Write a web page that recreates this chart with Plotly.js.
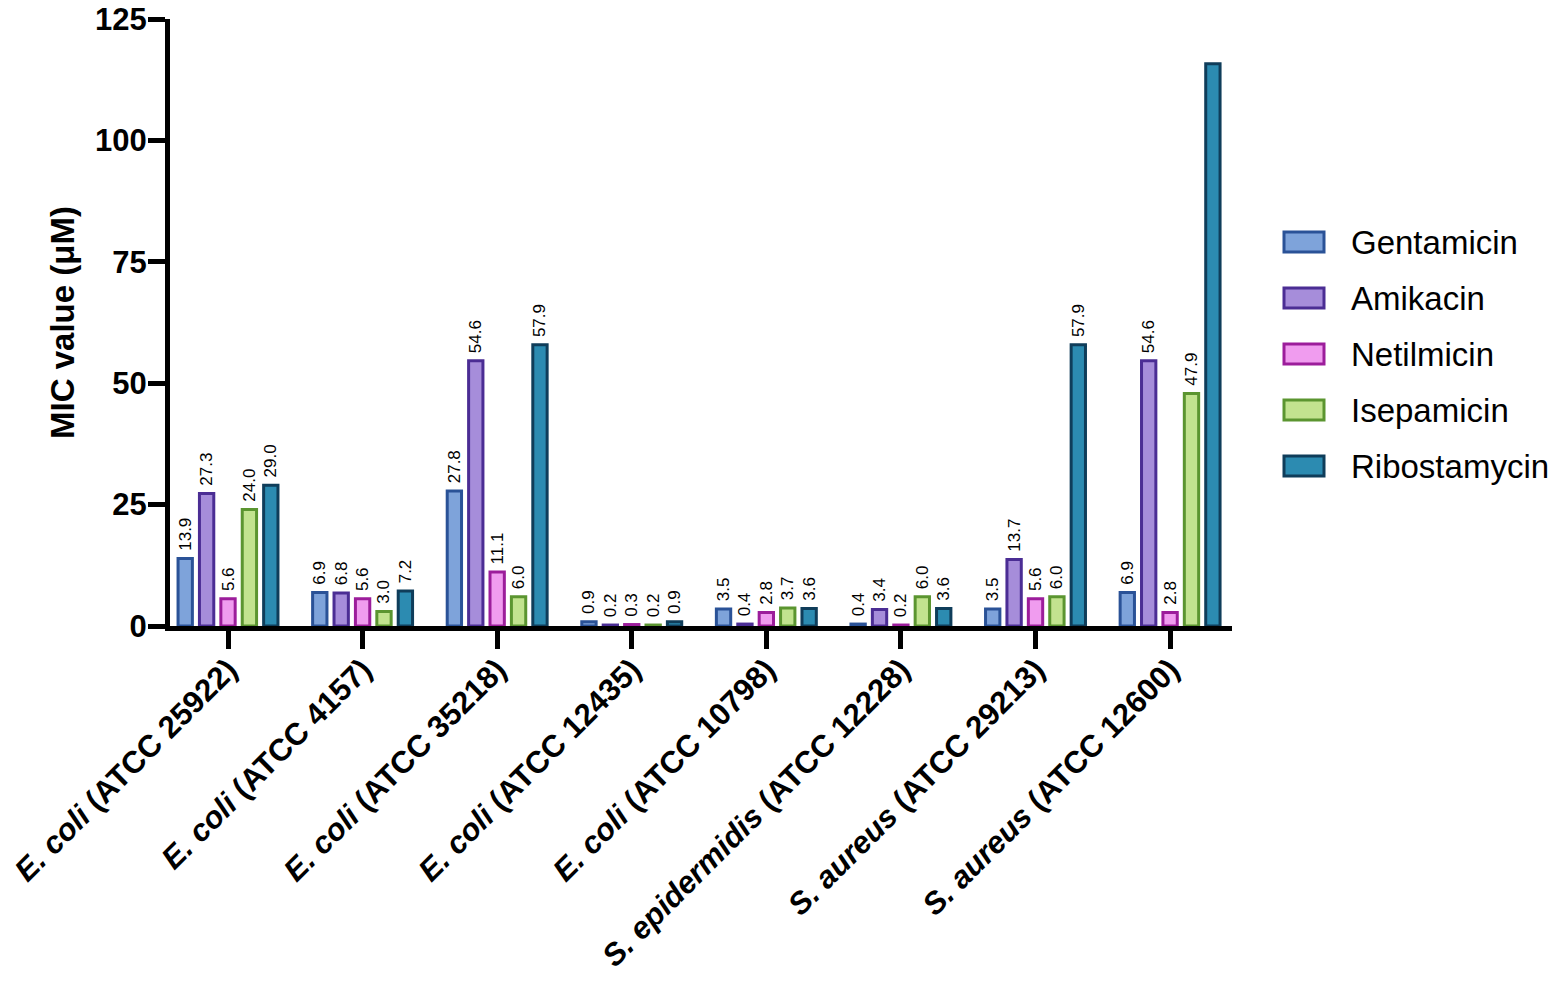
<!DOCTYPE html>
<html>
<head>
<meta charset="utf-8">
<script src="https://cdn.plot.ly/plotly-3.0.1.min.js"></script>
<style>html,body{margin:0;padding:0;background:#fff;}#chart{width:1559px;height:981px;}</style>
</head>
<body>
<div id="chart"></div>
<script>
// ---- data ----
var strains = [
  "<i>E. coli</i> (ATCC 25922)",
  "<i>E. coli</i> (ATCC 4157)",
  "<i>E. coli</i> (ATCC 35218)",
  "<i>E. coli</i> (ATCC 12435)",
  "<i>E. coli</i> (ATCC 10798)",
  "<i>S. epidermidis</i> (ATCC 12228)",
  "<i>S. aureus</i> (ATCC 29213)",
  "<i>S. aureus</i> (ATCC 12600)"
];
var seriesNames = ["Gentamicin", "Amikacin", "Netilmicin", "Isepamicin", "Ribostamycin"];
var gentamicin   = [13.9, 6.9, 27.8, 0.9, 3.5, 0.4, 3.5, 6.9];
var amikacin     = [27.3, 6.8, 54.6, 0.2, 0.4, 3.4, 13.7, 54.6];
var netilmicin   = [5.6, 5.6, 11.1, 0.3, 2.8, 0.2, 5.6, 2.8];
var isepamicin   = [24.0, 3.0, 6.0, 0.2, 3.7, 6.0, 6.0, 47.9];
var ribostamycin = [29.0, 7.2, 57.9, 0.9, 3.6, 3.6, 57.9, 115.8];
var yTicks = [0, 25, 50, 75, 100, 125];
// labels not shown in the original (value label missing above the tallest bar)
var hiddenLabel = [[], [], [], [], [7]];

// ---- styles ----
var fills = ["#7EA3DA", "#A68DDA", "#F09CEF", "#C2E38F", "#2C8BB1"];
var lines = ["#2A5297", "#4B2D94", "#9C1D9B", "#5B9530", "#0F3D5A"];
var font = "Arial, 'Liberation Sans', sans-serif";

var allSeries = [gentamicin, amikacin, netilmicin, isepamicin, ribostamycin];
var xIdx = strains.map(function (_, i) { return i; });

var traces = allSeries.map(function (vals, s) {
  return {
    type: "bar",
    name: seriesNames[s],
    x: xIdx,
    y: vals,
    text: vals.map(function (v, i) { return hiddenLabel[s].indexOf(i) >= 0 ? "" : "\u00a0" + v.toFixed(1); }),
    textposition: "outside",
    textangle: -90,
    constraintext: "none",
    cliponaxis: false,
    textfont: { family: font, size: 17, color: "#000" },
    marker: { color: fills[s], line: { color: lines[s], width: 3 } },
    hoverinfo: "name+y",
    showlegend: false
  };
});

// plot-area pixel geometry
var L = 170, R = 1232, T = 19, B = 626, W = 1559, H = 981;
function px2x(p) { return (p - L) / (R - L); }
function px2y(p) { return (B - p) / (B - T); }

var shapes = [], annotations = [];
var legendY = [242, 298, 354, 410, 466];
seriesNames.forEach(function (n, s) {
  shapes.push({
    type: "rect", xref: "paper", yref: "paper",
    x0: px2x(1284), x1: px2x(1324), y0: px2y(legendY[s] + 10), y1: px2y(legendY[s] - 10),
    fillcolor: fills[s], line: { color: lines[s], width: 3 }
  });
  annotations.push({
    xref: "paper", yref: "paper", x: px2x(1349), y: px2y(legendY[s]),
    xanchor: "left", yanchor: "middle", showarrow: false,
    text: n, font: { family: font, size: 33, color: "#000" }
  });
});

var layout = {
  width: W, height: H,
  margin: { l: L, r: W - R, t: T, b: H - B, pad: 0 },
  paper_bgcolor: "#fff", plot_bgcolor: "#fff",
  barmode: "group",
  bargap: 0.205,
  bargroupgap: 0.33,
  showlegend: false,
  font: { family: font, color: "#000" },
  xaxis: {
    type: "linear",
    range: [-0.431, 7.46],
    tickmode: "array",
    tickvals: xIdx,
    ticktext: strains.map(function (s) { return "<b>" + s + "</b>"; }),
    tickangle: -45,
    tickfont: { family: font, size: 31, color: "#000" },
    ticklabelstandoff: -10,
    ticks: "outside", ticklen: 18, tickwidth: 5, tickcolor: "#000",
    showline: true, linewidth: 5, linecolor: "#000",
    showgrid: false, zeroline: false, fixedrange: true
  },
  yaxis: {
    range: [0, 125],
    tickmode: "array",
    tickvals: yTicks,
    ticktext: yTicks.map(function (v) { return "<b>" + v + "</b>"; }),
    tickfont: { family: font, size: 31, color: "#000" },
    ticklabelstandoff: -5,
    ticks: "outside", ticklen: 17, tickwidth: 5, tickcolor: "#000",
    showline: true, linewidth: 5, linecolor: "#000",
    showgrid: false, zeroline: false,
    title: { text: "<b>MIC value (μM)</b>", font: { family: font, size: 33, color: "#000" }, standoff: 12 },
    fixedrange: true
  },
  shapes: shapes,
  annotations: annotations
};

Plotly.newPlot("chart", traces, layout, { displayModeBar: false, staticPlot: true });
</script>
</body>
</html>
